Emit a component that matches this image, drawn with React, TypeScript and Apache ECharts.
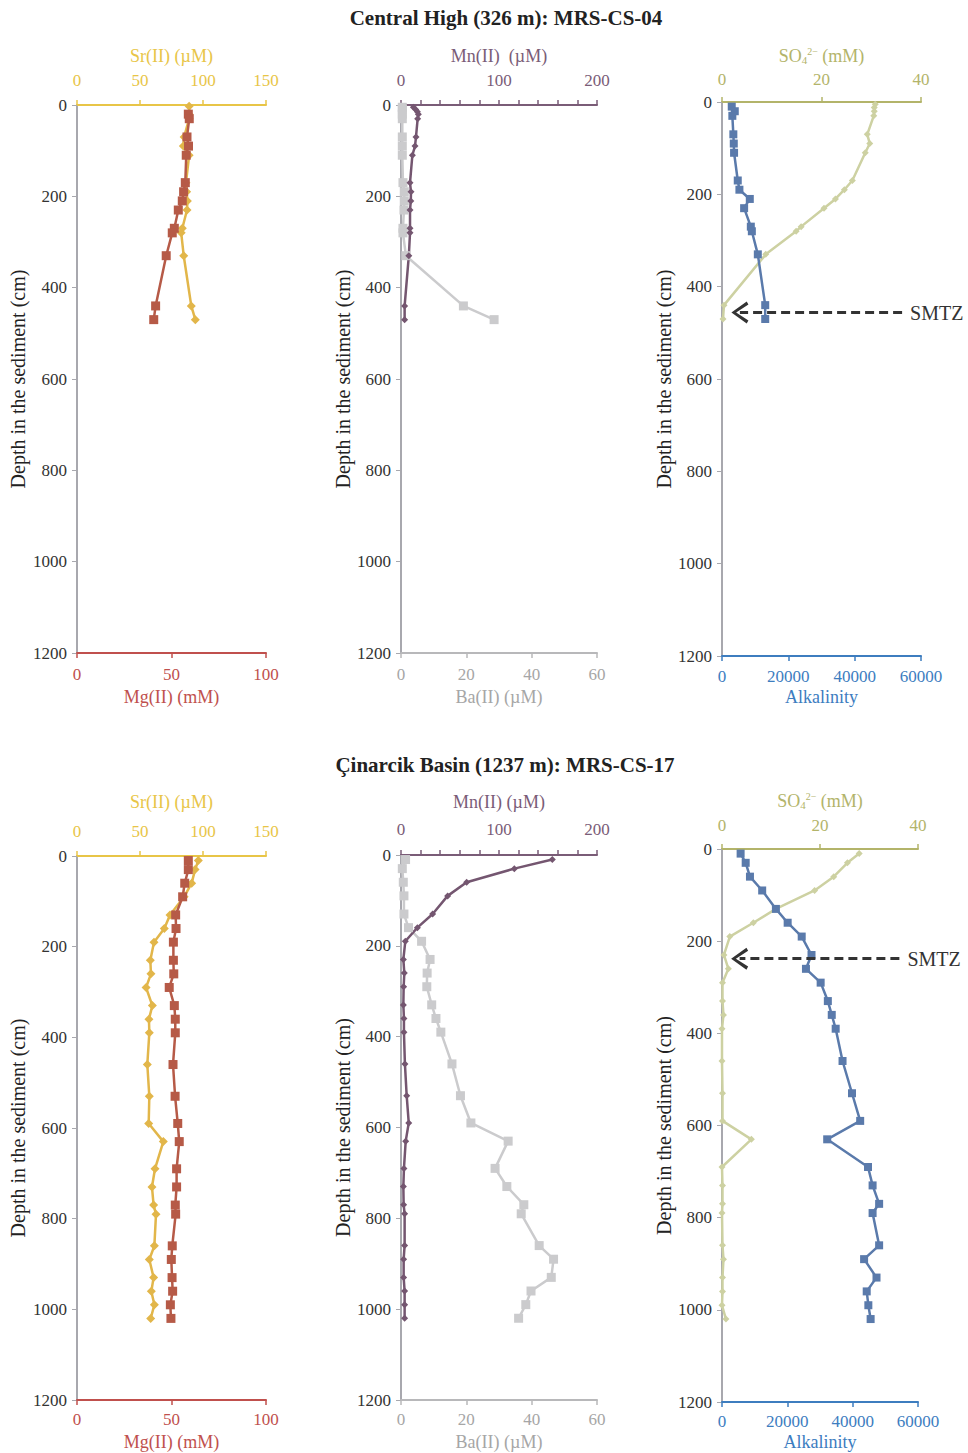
import React, { useEffect, useRef } from "react";
import * as echarts from "echarts";

// ---------- DATA ----------
// MRS-CS-04 (Central High)
const cs04MgDepth = [20, 30, 70, 90, 110, 170, 190, 210, 230, 270, 280, 330, 440, 470];
const cs04Mg = [58.9, 59.4, 58.2, 59, 57.8, 57.3, 56.4, 55.7, 53.6, 51.5, 50.4, 47.2, 41.6, 40.6];
const cs04SrDepth = [3, 20, 30, 70, 90, 110, 170, 190, 210, 230, 270, 280, 330, 440, 470];
const cs04Sr = [89, 89, 89, 85, 84.4, 89, 86.5, 87, 87.6, 87.3, 83.6, 82.7, 84.7, 90.7, 93.9];
const cs04MnDepth = [5, 10, 15, 20, 30, 70, 90, 110, 170, 190, 210, 230, 270, 280, 330, 440, 470];
const cs04Mn = [12.6, 15, 16.7, 17.7, 17, 15.3, 14.3, 11.6, 9.2, 10.2, 10, 9.2, 9.2, 9.2, 8, 3.7, 3.7];
const cs04BaDepth = [5, 10, 20, 30, 70, 90, 110, 170, 190, 210, 230, 270, 280, 330, 440, 470];
const cs04Ba = [0.4, 0.4, 0.4, 0.4, 0.4, 0.4, 0.4, 0.6, 1, 1, 0.9, 0.6, 0.6, 1.5, 19.1, 28.5];
const cs04AlkDepth = [10, 20, 30, 70, 90, 110, 170, 190, 210, 230, 270, 280, 330, 440, 470];
const cs04Alk = [2940, 3850, 3120, 3420, 3550, 3640, 4750, 5250, 8380, 6670, 8690, 9000, 10800, 13030, 13030];
const cs04So4Depth = [5, 12, 20, 30, 70, 90, 110, 170, 190, 210, 230, 270, 280, 330, 440, 470];
const cs04So4 = [30.8, 30.6, 30.6, 30.5, 29.2, 29.7, 28.8, 26.2, 24.6, 22.8, 20.5, 15.9, 14.9, 8.8, 0.4, 0.2];
const cs04Smtz = 456;

// MRS-CS-17 (Cinarcik Basin)
const cs17Depth = [10, 30, 60, 90, 130, 160, 190, 230, 260, 290, 330, 360, 390, 460, 530, 590, 630, 690, 730, 770, 790, 860, 890, 930, 960, 990, 1020];
const cs17Mg = [58.9, 58.9, 57, 55.9, 52.2, 52.4, 51, 51, 51.2, 48.8, 51.5, 52, 52, 50.8, 51.9, 53.3, 54.1, 52.7, 52.7, 52, 52.2, 50.4, 49.9, 50.3, 50.6, 49.4, 49.7];
const cs17Sr = [96.3, 93.7, 91, 85, 73.8, 69.3, 61.1, 58.2, 58.7, 54.8, 59.8, 57.1, 57.4, 55.8, 57.4, 56.9, 68.5, 61.9, 59.5, 60.8, 62.7, 61.4, 57.4, 60.8, 59, 61.4, 58.5];
const cs17Mn = [154.4, 115.6, 67, 47.6, 32.3, 16.7, 4.4, 2.4, 3.4, 2.7, 2.4, 3, 3, 4, 5.8, 7.9, 4.8, 3, 2.4, 2.7, 3.7, 3.7, 2.7, 2.7, 3.7, 3.7, 3.7];
const cs17Ba = [1.4, 0.4, 0.7, 0.9, 0.9, 2.3, 6.3, 8.9, 8, 7.9, 9.4, 10.7, 12.2, 15.6, 18.2, 21.4, 32.8, 28.8, 32.4, 37.6, 36.8, 42.3, 46.7, 46, 39.8, 38.2, 36];
const cs17Alk = [5700, 7250, 8560, 12300, 16500, 20100, 24400, 27400, 25700, 30200, 32400, 33600, 34800, 36900, 39800, 42300, 32200, 44700, 46100, 48100, 46100, 48100, 43500, 47300, 44300, 44800, 45500];
const cs17So4 = [28, 25.6, 22.8, 18.9, 11, 6.4, 1.6, 0.4, 1.3, 0.1, 0.1, 0.3, 0, 0, 0.1, 0.1, 6, 0, 0.1, 0.1, 0, 0.1, 0.3, 0.1, 0.1, 0, 0.8];
const cs17Smtz = 238;

const titles = ["Central High (326 m): MRS-CS-04", "Çinarcik Basin (1237 m): MRS-CS-17"];
const depthTicks = { min: 0, max: 1200, interval: 200 };

// ---------- STYLE ----------
const FONT = "'Liberation Serif', 'Times New Roman', serif";
const TICK_FS = 17;
const NAME_FS = 18;
const C = {
  srAxis: "#E8C547", sr: "#E2B64A",
  mgAxis: "#C0504D", mg: "#B65A47",
  mnAxis: "#7A5C77", mn: "#745670",
  baAxis: "#B8B8BA", baLabel: "#A6A6A6", ba: "#CBCBCD",
  so4Axis: "#B3B46A", so4: "#CDD1A2",
  alkAxis: "#3D7DBF", alk: "#5A7AAB",
  yAxis: "#A8A8AE",
};

const zip = (d: number[], v: number[]) => d.map((dd, i) => [v[i], dd]);
const plain = (v: number) => String(v);

function xAx(grid: number, pos: string, max: number, interval: number, color: string, labelColor: string, name: any, margin: number, nameGap: number, fmt?: (v: number) => string, rich?: any) {
  return {
    type: "value", gridIndex: grid, position: pos, min: 0, max, interval,
    name, nameLocation: "middle", nameGap,
    nameTextStyle: { color: labelColor, fontFamily: FONT, fontSize: NAME_FS, rich },
    axisLine: { show: true, onZero: false, lineStyle: { color, width: 2 } },
    axisTick: { show: true, length: 5, lineStyle: { color, width: 1.5 } },
    axisLabel: { color: labelColor, fontFamily: FONT, fontSize: TICK_FS, margin, formatter: fmt || plain },
    splitLine: { show: false },
  };
}

function yAx(grid: number, nameGap: number) {
  return {
    type: "value", gridIndex: grid, inverse: true, ...depthTicks,
    name: "Depth in the sediment (cm)", nameLocation: "middle", nameGap,
    nameTextStyle: { color: "#222", fontFamily: FONT, fontSize: 20 },
    axisLine: { show: true, onZero: false, lineStyle: { color: C.yAxis, width: 2 } },
    axisTick: { show: true, length: 5, lineStyle: { color: C.yAxis } },
    axisLabel: { color: "#333", fontFamily: FONT, fontSize: TICK_FS, margin: 10, formatter: plain },
    splitLine: { show: false },
  };
}

function line(name: string, xi: number, yi: number, data: number[][], color: string, symbol: string, size: number, extra: any = {}) {
  return {
    name, type: "line", xAxisIndex: xi, yAxisIndex: yi, data,
    symbol, symbolSize: size, showSymbol: true,
    lineStyle: { color, width: 2.5 }, itemStyle: { color },
    z: 3, ...extra,
  };
}

const chevron = "path://M5,0 L10,9 L8.6,10 L5,2.8 L1.4,10 L0,9 Z";

function smtz(depth: number) {
  return {
    markLine: {
      silent: true,
      symbol: ["none", chevron],
      symbolSize: [22, 17],
      lineStyle: { type: [9, 5], width: 3, color: "#333" },
      label: { show: true, position: "start", formatter: "SMTZ", fontFamily: FONT, fontSize: 20, color: "#333", distance: 8 },
      data: [[{ coord: [36.2, depth] }, { coord: [3.6, depth] }]],
    },
  };
}

const so4Name = "SO{sub|4}{sup|2−} (mM)";
const so4Rich = {
  sub: { fontSize: 11, color: C.so4Axis, fontFamily: FONT, verticalAlign: "bottom", padding: [8, 0, 0, 0] },
  sup: { fontSize: 10, color: C.so4Axis, fontFamily: FONT, verticalAlign: "top", padding: [0, 0, 8, 0] },
};

const mnFmt = (v: number) => (v % 100 === 0 ? String(v) : "");

function buildOption() {
  const grids = [
    { left: 77, top: 105, width: 189, height: 548 },
    { left: 401, top: 105, width: 196, height: 548 },
    { left: 722, top: 102, width: 199, height: 554 },
    { left: 77, top: 856, width: 189, height: 544 },
    { left: 401, top: 855, width: 196, height: 545 },
    { left: 722, top: 849, width: 196, height: 553 },
  ];
  const xAxis = [
    xAx(0, "top", 150, 50, C.srAxis, C.srAxis, "Sr(II) (µM)", 16, 40),
    xAx(0, "bottom", 100, 50, C.mgAxis, C.mgAxis, "Mg(II) (mM)", 13, 35),
    xAx(1, "top", 200, 20, C.mnAxis, C.mnAxis, "Mn(II)  (µM)", 16, 40, mnFmt),
    xAx(1, "bottom", 60, 20, C.baAxis, C.baLabel, "Ba(II) (µM)", 13, 35),
    xAx(2, "top", 40, 20, C.so4Axis, C.so4Axis, so4Name, 14, 37, undefined, so4Rich),
    xAx(2, "bottom", 60000, 20000, C.alkAxis, C.alkAxis, "Alkalinity", 12, 32),
    xAx(3, "top", 150, 50, C.srAxis, C.srAxis, "Sr(II) (µM)", 16, 45),
    xAx(3, "bottom", 100, 50, C.mgAxis, C.mgAxis, "Mg(II) (mM)", 11, 33),
    xAx(4, "top", 200, 20, C.mnAxis, C.mnAxis, "Mn(II) (µM)", 17, 44, mnFmt),
    xAx(4, "bottom", 60, 20, C.baAxis, C.baLabel, "Ba(II) (µM)", 11, 33),
    xAx(5, "top", 40, 20, C.so4Axis, C.so4Axis, so4Name, 15, 39, undefined, so4Rich),
    xAx(5, "bottom", 60000, 20000, C.alkAxis, C.alkAxis, "Alkalinity", 11, 31),
  ];
  const yAxis = [yAx(0, 49), yAx(1, 48), yAx(2, 43), yAx(3, 49), yAx(4, 48), yAx(5, 43)];

  const series = [
    line("Sr CS-04", 0, 0, zip(cs04SrDepth, cs04Sr), C.sr, "diamond", 9),
    line("Mg CS-04", 1, 0, zip(cs04MgDepth, cs04Mg), C.mg, "rect", 9),
    line("Ba CS-04", 3, 1, zip(cs04BaDepth, cs04Ba), C.ba, "rect", 9),
    line("Mn CS-04", 2, 1, zip(cs04MnDepth, cs04Mn), C.mn, "diamond", 7),
    line("SO4 CS-04", 4, 2, zip(cs04So4Depth, cs04So4), C.so4, "diamond", 7, smtz(cs04Smtz)),
    line("Alk CS-04", 5, 2, zip(cs04AlkDepth, cs04Alk), C.alk, "rect", 8),

    line("Sr CS-17", 6, 3, zip(cs17Depth, cs17Sr), C.sr, "diamond", 9),
    line("Mg CS-17", 7, 3, zip(cs17Depth, cs17Mg), C.mg, "rect", 9),
    line("Ba CS-17", 9, 4, zip(cs17Depth, cs17Ba), C.ba, "rect", 9),
    line("Mn CS-17", 8, 4, zip(cs17Depth, cs17Mn), C.mn, "diamond", 7),
    line("SO4 CS-17", 10, 5, zip(cs17Depth, cs17So4), C.so4, "diamond", 7, smtz(cs17Smtz)),
    line("Alk CS-17", 11, 5, zip(cs17Depth, cs17Alk), C.alk, "rect", 8),
  ];

  return {
    animation: false,
    backgroundColor: "#ffffff",
    grid: grids,
    xAxis,
    yAxis,
    series,
    graphic: [
      { type: "text", x: 506, y: 18, style: { text: titles[0], font: `bold 21px ${FONT}`, fill: "#222", textAlign: "center", textVerticalAlign: "middle" } },
      { type: "text", x: 505, y: 765, style: { text: titles[1], font: `bold 21px ${FONT}`, fill: "#222", textAlign: "center", textVerticalAlign: "middle" } },
    ],
  };
}

export default function App() {
  const ref = useRef<HTMLDivElement>(null);
  useEffect(() => {
    if (!ref.current) return;
    const chart = echarts.init(ref.current, null, { renderer: "svg" });
    chart.setOption(buildOption() as any);
    return () => chart.dispose();
  }, []);
  return <div ref={ref} style={{ position: "absolute", left: 0, top: 0, width: 968, height: 1453, background: "#fff" }} />;
}
